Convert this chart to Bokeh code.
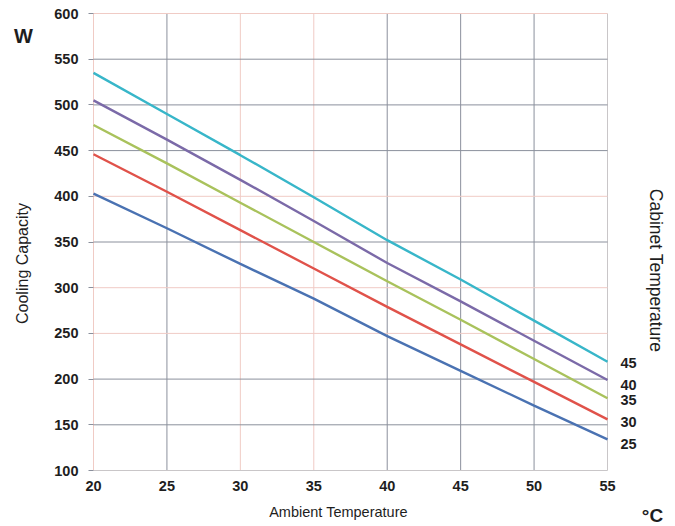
import math
from bokeh.plotting import figure
from bokeh.models import Range1d, FixedTicker, Label, ColumnDataSource
from bokeh.core.properties import value
from bokeh.embed import file_html
from bokeh.resources import INLINE

# ---- data ----
ambient = [20, 25, 30, 35, 40, 45, 50, 55]
cabinet = ["45", "40", "35", "30", "25"]
cap_45 = [535, 490, 445, 399, 352, 309, 264, 219]
cap_40 = [505, 462, 418, 373, 327, 285, 242, 199]
cap_35 = [478, 436, 393, 350, 307, 265, 222, 179]
cap_30 = [446, 405, 363, 321, 279, 238, 197, 156]
cap_25 = [403, 365, 326, 288, 247, 209, 171, 134]
series = [cap_45, cap_40, cap_35, cap_30, cap_25]
colors = ["#38b6c9", "#7b6aa8", "#a9c25c", "#e0524a", "#4a72b2"]

x_ticks = [20, 25, 30, 35, 40, 45, 50, 55]
y_ticks = [100, 150, 200, 250, 300, 350, 400, 450, 500, 550, 600]
grid_x_gray = [25, 40, 45, 50]
grid_x_pink = [20, 30, 35]
grid_x_light = [55]
grid_y_gray = [150, 200, 350, 450, 500, 550]
grid_y_pink = [250, 300, 400, 600]
grid_y_light = [100]

# ---- layout (pixels) ----
W, H = 675, 526
BOX_L, BOX_R, BOX_T, BOX_B = 93, 607, 13, 470
x0, x1 = x_ticks[0], x_ticks[-1]
y0, y1 = y_ticks[0], y_ticks[-1]
sx = (BOX_R - BOX_L) / (x1 - x0)
sy = (BOX_B - BOX_T) / (y1 - y0)
x_range = Range1d(x0 - BOX_L / sx, x1 + (W - BOX_R) / sx)
y_range = Range1d(y0 - (H - BOX_B) / sy, y1 + BOX_T / sy)

GRAY = "#8b909c"
PINK = "#f0cbc5"
LIGHT = "#c9c6c8"
TXT = "#1e1e1e"
FONT = "Liberation Sans"

p = figure(width=W, height=H, output_backend="svg", toolbar_location=None,
           x_range=x_range, y_range=y_range,
           min_border=0, min_border_left=0, min_border_right=0,
           min_border_top=0, min_border_bottom=0)
p.outline_line_color = None
p.background_fill_color = "white"
p.border_fill_color = "white"
p.xgrid.visible = False
p.ygrid.visible = False

# grid lines limited to the plotting box
for ticks, col in [(grid_x_pink, PINK), (grid_x_light, LIGHT), (grid_x_gray, GRAY)]:
    n = len(ticks)
    p.segment(x0=ticks, y0=[y0] * n, x1=ticks, y1=[y1] * n, line_color=col, line_width=1)
for ticks, col in [(grid_y_pink, PINK), (grid_y_light, LIGHT), (grid_y_gray, GRAY)]:
    n = len(ticks)
    p.segment(x0=[x0] * n, y0=ticks, x1=[x1] * n, y1=ticks, line_color=col, line_width=1)

# axes fixed at the box edges
p.xaxis.fixed_location = y0
p.yaxis.fixed_location = x0
p.xaxis.ticker = FixedTicker(ticks=x_ticks)
p.yaxis.ticker = FixedTicker(ticks=y_ticks)
p.xaxis.bounds = (x0, x1)
p.yaxis.bounds = (y0, y1)
for ax in (p.xaxis, p.yaxis):
    ax.axis_line_color = None
    ax.minor_tick_line_color = None
    ax.major_label_text_font = FONT
    ax.major_label_text_font_style = "bold"
    ax.major_label_text_font_size = "14.5px"
    ax.major_label_text_color = TXT
p.xaxis.major_tick_line_color = None
p.xaxis.major_tick_out = 0
p.xaxis.major_tick_in = 0
p.xaxis.major_label_standoff = 10
p.yaxis.major_tick_line_color = GRAY
p.yaxis.major_tick_out = 5
p.yaxis.major_tick_in = 0
p.yaxis.major_label_standoff = 10

for vals, col in zip(series, colors):
    p.line(ambient, vals, line_color=col, line_width=2.4)

src = ColumnDataSource(dict(
    x=[ambient[-1]] * len(series),
    y=[s[-1] for s in series],
    t=cabinet,
    dy=[1, 4.5, 2, 3, 5],
))
p.text(x="x", y="y", text="t", source=src, x_offset=13, y_offset="dy",
       text_align="left", text_baseline="middle", text_font=value(FONT),
       text_font_style="bold", text_font_size="14.5px", text_color=TXT)

def lab(text, px, py, angle=0, size="14.5px", style="normal"):
    p.add_layout(Label(text=text, x=px, y=H - py, x_units="screen", y_units="screen",
                       angle=angle, text_align="center", text_baseline="middle",
                       text_font=FONT, text_font_size=size, text_font_style=style,
                       text_color=TXT))

lab("Ambient Temperature", 338, 511, size="14.5px")
lab("Cooling Capacity", 22, 263, angle=math.pi / 2, size="16px")
lab("Cabinet Temperature", 655, 270, angle=-math.pi / 2, size="17.5px")
lab("W", 23, 35, size="20px", style="bold")
lab("°C", 652, 515, size="19px", style="bold")

open("out.html", "w").write(file_html(p, INLINE))
